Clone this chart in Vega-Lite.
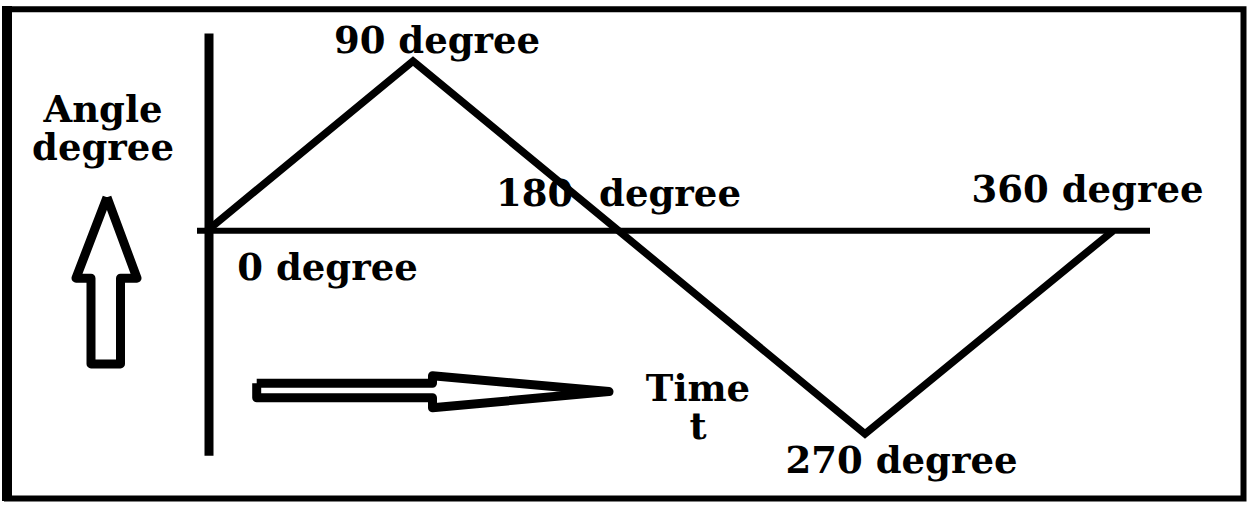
{
  "$schema": "https://vega.github.io/schema/vega-lite/v6.json",
  "width": 1249,
  "height": 506,
  "autosize": {"type": "fit", "contains": "padding"},
  "padding": 0,
  "background": "white",
  "config": {"view": {"stroke": null}},
  "datasets": {
    "frame": [{"x": 7, "x2": 1243.5, "y": 7.3, "y2": 503.5}],
    "frameLeft": [{"x": 7, "y": 4, "y2": 506}],
    "vaxis": [{"x": 209, "y": 32, "y2": 460}],
    "haxis": [{"y": 232, "x": 197, "x2": 1150}],
    "wave": [
      {"i": 0, "angle": "0", "x": 207, "y": 232},
      {"i": 1, "angle": "90", "x": 413, "y": 60},
      {"i": 2, "angle": "270", "x": 865, "y": 438},
      {"i": 3, "angle": "360", "x": 1113, "y": 232}
    ],
    "arrows": [
      {"shape": "up", "i": 0, "x": 107, "y": 198},
      {"shape": "up", "i": 1, "x": 137, "y": 280},
      {"shape": "up", "i": 2, "x": 120.5, "y": 280},
      {"shape": "up", "i": 3, "x": 120.5, "y": 367},
      {"shape": "up", "i": 4, "x": 91, "y": 367},
      {"shape": "up", "i": 5, "x": 91, "y": 280},
      {"shape": "up", "i": 6, "x": 76, "y": 280},
      {"shape": "up", "i": 7, "x": 107, "y": 198},
      {"shape": "right", "i": 0, "x": 256.7, "y": 386.7},
      {"shape": "right", "i": 1, "x": 432.5, "y": 386.7},
      {"shape": "right", "i": 2, "x": 432.5, "y": 379},
      {"shape": "right", "i": 3, "x": 609, "y": 395},
      {"shape": "right", "i": 4, "x": 432.5, "y": 411.5},
      {"shape": "right", "i": 5, "x": 432.5, "y": 401.3},
      {"shape": "right", "i": 6, "x": 256.7, "y": 401.3},
      {"shape": "right", "i": 7, "x": 256.7, "y": 386.7}
    ],
    "labels": [
      {"text": "90 degree", "x": 437, "y": 52},
      {"text": "180\u00a0 degree", "x": 618.5, "y": 207},
      {"text": "360 degree", "x": 1087.5, "y": 203},
      {"text": "0 degree", "x": 327.5, "y": 282},
      {"text": "270 degree", "x": 901.5, "y": 478},
      {"text": ["Angle", "degree"], "x": 103, "y": 122},
      {"text": ["Time", "t"], "x": 698, "y": 405}
    ]
  },
  "layer": [
    {
      "data": {"name": "frame"},
      "mark": {"type": "rect", "filled": false, "stroke": "black", "strokeWidth": 6},
      "encoding": {
        "x": {"field": "x", "type": "quantitative", "scale": {"domain": [0, 1249], "nice": false, "zero": false}, "axis": null},
        "x2": {"field": "x2"},
        "y": {"field": "y", "type": "quantitative", "scale": {"domain": [0, 506], "nice": false, "zero": false, "reverse": true}, "axis": null},
        "y2": {"field": "y2"}
      }
    },
    {
      "data": {"name": "frameLeft"},
      "mark": {"type": "rule", "stroke": "black", "strokeWidth": 10},
      "encoding": {
        "x": {"field": "x", "type": "quantitative", "scale": {"domain": [0, 1249], "nice": false, "zero": false}, "axis": null},
        "y": {"field": "y", "type": "quantitative", "scale": {"domain": [0, 506], "nice": false, "zero": false, "reverse": true}, "axis": null},
        "y2": {"field": "y2"}
      }
    },
    {
      "data": {"name": "vaxis"},
      "mark": {"type": "rule", "stroke": "black", "strokeWidth": 9},
      "encoding": {
        "x": {"field": "x", "type": "quantitative", "scale": {"domain": [0, 1249], "nice": false, "zero": false}, "axis": null},
        "y": {"field": "y", "type": "quantitative", "scale": {"domain": [0, 506], "nice": false, "zero": false, "reverse": true}, "axis": null},
        "y2": {"field": "y2"}
      }
    },
    {
      "data": {"name": "haxis"},
      "mark": {"type": "rule", "stroke": "black", "strokeWidth": 6},
      "encoding": {
        "x": {"field": "x", "type": "quantitative", "scale": {"domain": [0, 1249], "nice": false, "zero": false}, "axis": null},
        "x2": {"field": "x2"},
        "y": {"field": "y", "type": "quantitative", "scale": {"domain": [0, 506], "nice": false, "zero": false, "reverse": true}, "axis": null}
      }
    },
    {
      "data": {"name": "wave"},
      "mark": {"type": "line", "stroke": "black", "strokeWidth": 7.5, "strokeJoin": "miter", "strokeCap": "butt"},
      "encoding": {
        "x": {"field": "x", "type": "quantitative", "scale": {"domain": [0, 1249], "nice": false, "zero": false}, "axis": null},
        "y": {"field": "y", "type": "quantitative", "scale": {"domain": [0, 506], "nice": false, "zero": false, "reverse": true}, "axis": null},
        "order": {"field": "i"}
      }
    },
    {
      "data": {"name": "arrows"},
      "mark": {"type": "line", "stroke": "black", "strokeWidth": 9, "strokeJoin": "round"},
      "encoding": {
        "x": {"field": "x", "type": "quantitative", "scale": {"domain": [0, 1249], "nice": false, "zero": false}, "axis": null},
        "y": {"field": "y", "type": "quantitative", "scale": {"domain": [0, 506], "nice": false, "zero": false, "reverse": true}, "axis": null},
        "detail": {"field": "shape"},
        "order": {"field": "i"}
      }
    },
    {
      "data": {"name": "labels"},
      "mark": {"type": "text", "font": "DejaVu Serif", "fontWeight": "bold", "fontSize": 37, "lineHeight": 38, "align": "center", "baseline": "alphabetic", "color": "black"},
      "encoding": {
        "x": {"field": "x", "type": "quantitative", "scale": {"domain": [0, 1249], "nice": false, "zero": false}, "axis": null},
        "y": {"field": "y", "type": "quantitative", "scale": {"domain": [0, 506], "nice": false, "zero": false, "reverse": true}, "axis": null},
        "text": {"field": "text"}
      }
    }
  ]
}
